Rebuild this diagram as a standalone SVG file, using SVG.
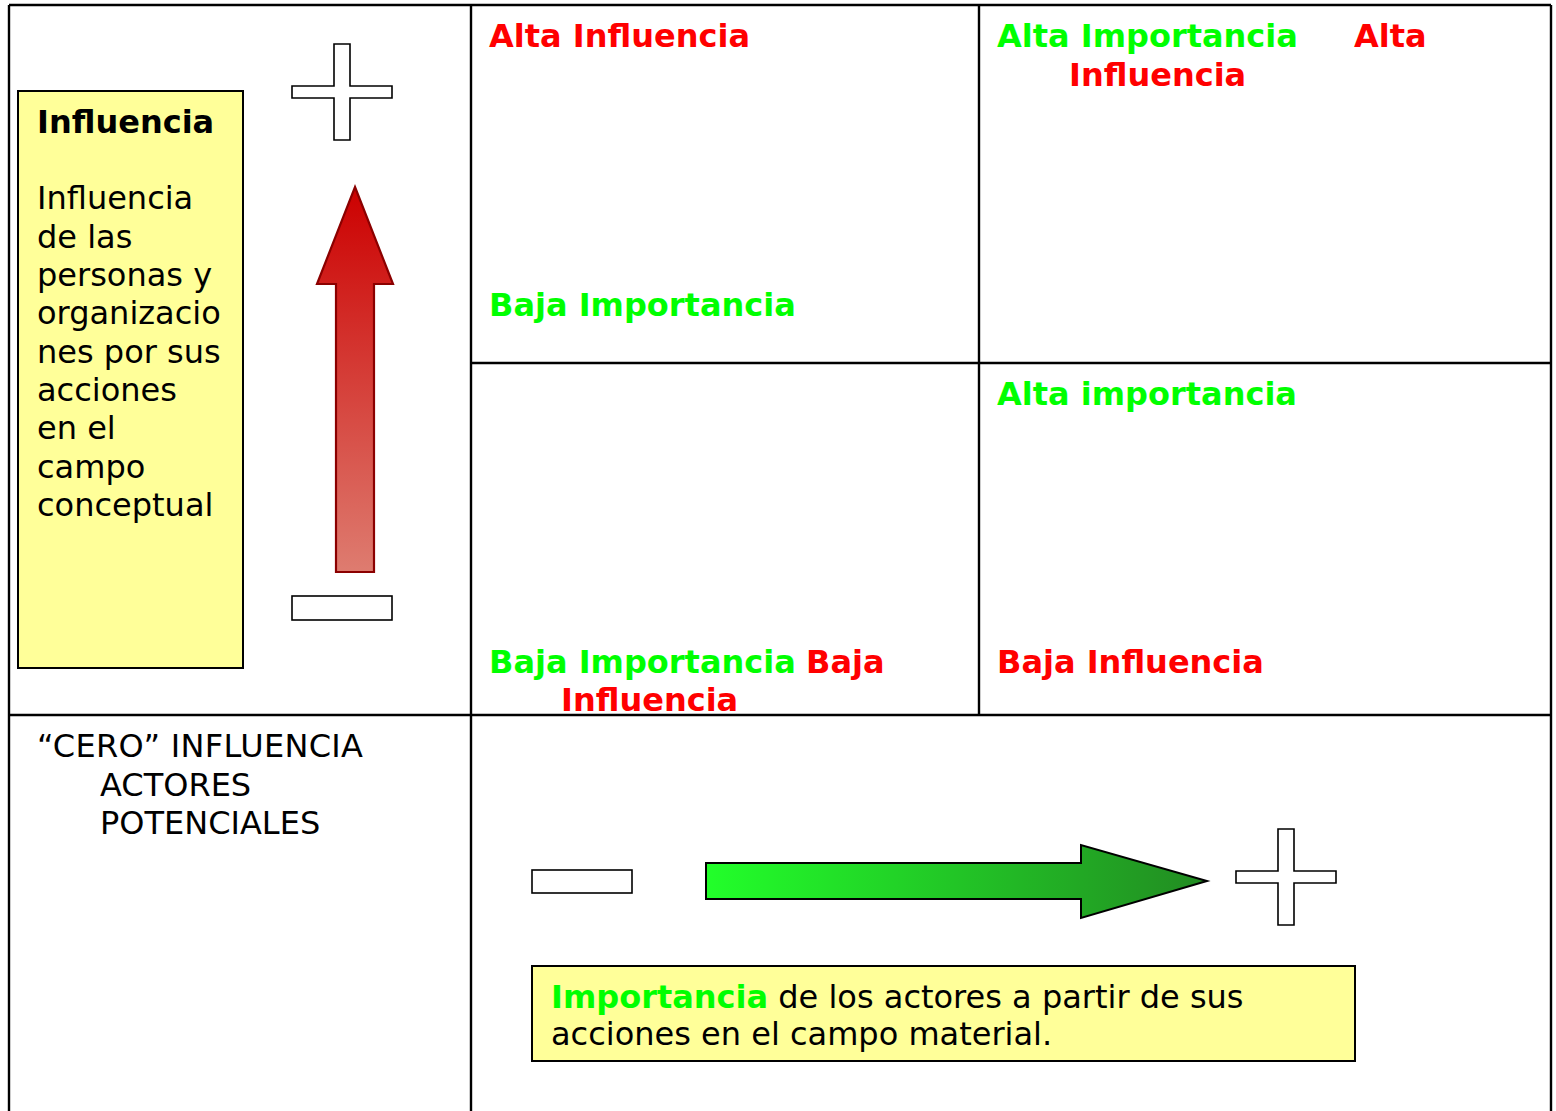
<svg xmlns="http://www.w3.org/2000/svg" width="1556" height="1111" viewBox="0 0 1556 1111">
<style>
  .grid { stroke: #000; stroke-width: 2.4; fill: none; }
  .note { fill: #ffff99; stroke: #000; stroke-width: 2; }
  .sym { fill: #fff; stroke: #000; stroke-width: 1.6; }
  text { font-family: "DejaVu Sans", "Liberation Sans", sans-serif; font-size: 32px; fill: #000; }
  .b { font-weight: bold; }
  .red { fill: #ff0000; font-weight: bold; }
  .grn { fill: #00ff00; font-weight: bold; }
</style>
<defs>
  <linearGradient id="redGrad" x1="0" y1="0" x2="0" y2="1">
    <stop offset="0" stop-color="#cc0000"/>
    <stop offset="1" stop-color="#de7c70"/>
  </linearGradient>
  <linearGradient id="grnGrad" x1="0" y1="0" x2="1" y2="0">
    <stop offset="0" stop-color="#22ff2a"/>
    <stop offset="1" stop-color="#228b22"/>
  </linearGradient>
</defs>
<rect width="1556" height="1111" fill="#fff"/>

<g id="grid">
  <line class="grid" x1="9" y1="5" x2="1551" y2="5"/>
  <line class="grid" x1="9" y1="5" x2="9" y2="1111"/>
  <line class="grid" x1="1551" y1="5" x2="1551" y2="1111"/>
  <line class="grid" x1="471" y1="5" x2="471" y2="1111"/>
  <line class="grid" x1="979" y1="5" x2="979" y2="715"/>
  <line class="grid" x1="471" y1="363" x2="1551" y2="363"/>
  <line class="grid" x1="9" y1="715" x2="1551" y2="715"/>
</g>

<g id="influencia-note">
  <rect class="note" x="18" y="91" width="225" height="577"/>
  <text class="b" x="37" y="133">Influencia</text>
  <text x="37" y="209">Influencia</text>
  <text x="37" y="247.5">de las</text>
  <text x="37" y="286">personas y</text>
  <text x="37" y="324">organizacio</text>
  <text x="37" y="362.5">nes por sus</text>
  <text x="37" y="401">acciones</text>
  <text x="37" y="439">en el</text>
  <text x="37" y="477.5">campo</text>
  <text x="37" y="516">conceptual</text>
</g>

<g id="plus-top">
  <path class="sym" d="M334,44 H350 V86 H392 V98 H350 V140 H334 V98 H292 V86 H334 Z"/>
</g>
<g id="minus-left">
  <rect class="sym" x="292" y="596" width="100" height="24"/>
</g>
<g id="arrow-up">
  <path d="M355,187 L393,284 L374,284 L374,572 L336,572 L336,284 L317,284 Z" fill="url(#redGrad)" stroke="#8b0000" stroke-width="2.2"/>
</g>

<g id="cell-tl">
  <text class="red" x="489" y="47">Alta Influencia</text>
  <text class="grn" x="489" y="316">Baja Importancia</text>
</g>
<g id="cell-tr">
  <text x="997" y="47"><tspan class="grn">Alta Importancia</tspan><tspan class="red" x="1354">Alta</tspan></text>
  <text class="red" x="1069" y="86">Influencia</text>
</g>
<g id="cell-bl">
  <text x="489" y="673"><tspan class="grn">Baja Importancia</tspan> <tspan class="red">Baja</tspan></text>
  <text class="red" x="561" y="711">Influencia</text>
</g>
<g id="cell-br">
  <text class="grn" x="997" y="405">Alta importancia</text>
  <text class="red" x="997" y="673">Baja Influencia</text>
</g>

<g id="cero">
  <text x="37" y="757" textLength="326" lengthAdjust="spacing">“CERO” INFLUENCIA</text>
  <text x="100" y="796">ACTORES</text>
  <text x="100" y="834">POTENCIALES</text>
</g>

<g id="minus-bottom">
  <rect class="sym" x="532" y="870" width="100" height="23"/>
</g>
<g id="arrow-right">
  <path d="M706,863 L1081,863 L1081,845 L1207,881 L1081,918 L1081,899 L706,899 Z" fill="url(#grnGrad)" stroke="#000" stroke-width="2"/>
</g>
<g id="plus-right">
  <path class="sym" d="M1278,829 H1294 V871 H1336 V883 H1294 V925 H1278 V883 H1236 V871 H1278 Z"/>
</g>

<g id="importancia-note">
  <rect class="note" x="532" y="966" width="823" height="95"/>
  <text x="551" y="1008"><tspan class="grn">Importancia</tspan> de los actores a partir de sus</text>
  <text x="551" y="1045">acciones en el campo material.</text>
</g>
</svg>
